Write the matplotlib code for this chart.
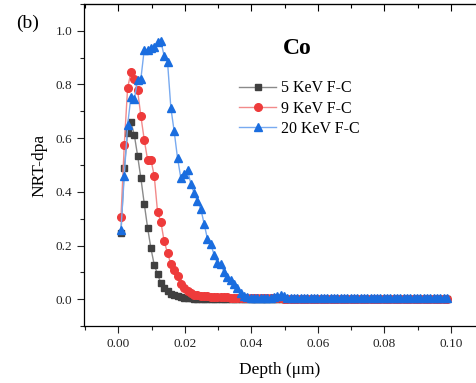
import numpy as np
import matplotlib
matplotlib.use("Agg")
import matplotlib.pyplot as plt
from matplotlib.ticker import MultipleLocator

plt.rcParams['font.family'] = ['Liberation Serif', 'DejaVu Serif']

# depth bins (um)
depth = np.round(0.0008 + 0.001 * np.arange(99), 4)

# NRT-dpa values
five_kev = [
    0.245, 0.490, 0.620, 0.659, 0.613, 0.535, 0.450, 0.356, 0.267, 0.190,
    0.128, 0.093, 0.060, 0.042, 0.030, 0.020, 0.014, 0.010, 0.007, 0.005,
    0.004, 0.003, 0.002, 0.002, 0.001, 0.001, 0.001, 0.001, 0.001, 0.001,
    0.0, 0.0, 0.0, 0.0, 0.0, 0.0, 0.0, 0.0, 0.0, 0.0,
    0.0, 0.0, 0.0, 0.0, 0.0, 0.0, 0.0, 0.0, 0.0, 0.0,
    0.0, 0.0, 0.0, 0.0, 0.0, 0.0, 0.0, 0.0, 0.0, 0.0,
    0.0, 0.0, 0.0, 0.0, 0.0, 0.0, 0.0, 0.0, 0.0, 0.0,
    0.0, 0.0, 0.0, 0.0, 0.0, 0.0, 0.0, 0.0, 0.0, 0.0,
    0.0, 0.0, 0.0, 0.0, 0.0, 0.0, 0.0, 0.0, 0.0, 0.0,
    0.0, 0.0, 0.0, 0.0, 0.0, 0.0, 0.0, 0.0, 0.0,
]
nine_kev = [
    0.305, 0.575, 0.787, 0.845, 0.820, 0.778, 0.681, 0.594, 0.520, 0.520,
    0.460, 0.325, 0.287, 0.215, 0.172, 0.130, 0.110, 0.087, 0.055, 0.040,
    0.030, 0.022, 0.017, 0.014, 0.012, 0.011, 0.010, 0.009, 0.009, 0.008,
    0.008, 0.007, 0.007, 0.006, 0.006, 0.006, 0.005, 0.005, 0.005, 0.005,
    0.004, 0.004, 0.004, 0.004, 0.004, 0.004, 0.003, 0.003, 0.003, 0.002,
    0.002, 0.002, 0.001, 0.001, 0.001, 0.001, 0.001, 0.001, 0.001, 0.001,
    0.001, 0.001, 0.001, 0.001, 0.001, 0.0, 0.0, 0.0, 0.0, 0.0,
    0.0, 0.0, 0.0, 0.0, 0.0, 0.0, 0.0, 0.0, 0.0, 0.0,
    0.0, 0.0, 0.0, 0.0, 0.0, 0.0, 0.0, 0.0, 0.0, 0.0,
    0.0, 0.0, 0.0, 0.0, 0.0, 0.0, 0.0, 0.0, 0.0,
]
twenty_kev = [
    0.258, 0.460, 0.648, 0.755, 0.745, 0.815, 0.822, 0.930, 0.928, 0.937,
    0.940, 0.957, 0.961, 0.905, 0.884, 0.713, 0.625, 0.526, 0.451, 0.468,
    0.482, 0.430, 0.395, 0.365, 0.336, 0.281, 0.224, 0.205, 0.165, 0.134,
    0.132, 0.100, 0.084, 0.072, 0.058, 0.040, 0.022, 0.010, 0.007, 0.006,
    0.006, 0.005, 0.006, 0.005, 0.006, 0.006, 0.008, 0.012, 0.015, 0.010,
    0.006, 0.005, 0.005, 0.006, 0.005, 0.005, 0.005, 0.006, 0.005, 0.005,
    0.005, 0.005, 0.006, 0.005, 0.005, 0.005, 0.005, 0.005, 0.006, 0.005,
    0.005, 0.005, 0.005, 0.005, 0.006, 0.005, 0.005, 0.005, 0.005, 0.005,
    0.005, 0.006, 0.005, 0.005, 0.005, 0.005, 0.005, 0.006, 0.005, 0.005,
    0.005, 0.005, 0.005, 0.006, 0.005, 0.005, 0.005, 0.005, 0.005,
]
labels = ["5 KeV F-C", "9 KeV F-C", "20 KeV F-C"]

fig = plt.figure(figsize=(4.76, 3.83), dpi=100)
ax = fig.add_axes([0.1765, 0.1488, 0.8235, 0.8408])

ax.plot(depth, five_kev, '-s', color='#8a8a8a', mfc='#404040', mec='#404040',
        lw=1, ms=5, label=labels[0])
ax.plot(depth, nine_kev, '-o', color='#f28a8a', mfc='#ee3b3b', mec='#ee3b3b',
        lw=1, ms=5.5, label=labels[1])
ax.plot(depth, twenty_kev, '-^', color='#78aaf0', mfc='#1a6ddf', mec='#1a6ddf',
        lw=1, ms=6, label=labels[2])

ax.set_xlim(-0.0103, 0.1075)
ax.set_ylim(-0.1, 1.1)
ax.xaxis.set_minor_locator(MultipleLocator(0.01))
ax.yaxis.set_minor_locator(MultipleLocator(0.1))
ax.set_xticks(np.arange(0, 0.101, 0.02))
ax.set_xticklabels(["0.00", "0.02", "0.04", "0.06", "0.08", "0.10"])
ax.set_yticks(np.arange(0, 1.01, 0.2))
ax.set_yticklabels(["0.0", "0.2", "0.4", "0.6", "0.8", "1.0"])

ax.tick_params(which='both', direction='out', width=0.8, labelsize=9.5, colors='#222222')
ax.tick_params(which='major', length=5)
ax.tick_params(which='minor', length=3)
for sp in ax.spines.values():
    sp.set_linewidth(0.9)
ax.spines['right'].set_visible(False)

# top ticks point inward
sec = ax.secondary_xaxis('top')
sec.xaxis.set_major_locator(MultipleLocator(0.02))
sec.xaxis.set_minor_locator(MultipleLocator(0.01))
sec.tick_params(which='both', direction='in', labeltop=False, width=0.8)
sec.tick_params(which='major', length=5)
sec.tick_params(which='minor', length=3)

ax.set_xlabel("Depth (\u03bcm)", fontsize=12.5, labelpad=9)
ax.set_ylabel("NRT-dpa", fontsize=12.5, labelpad=6)

ax.text(0.543, 0.863, "Co", transform=ax.transAxes, fontsize=17, fontweight='bold',
        ha='center', va='center')
fig.text(0.057, 0.94, "(b)", fontsize=14, ha='center', va='center')

ax.legend(loc='upper left', bbox_to_anchor=(0.503, 0.79), bbox_transform=fig.transFigure,
          frameon=False, fontsize=11.5, handlelength=2.3, handletextpad=0.3,
          labelspacing=0.27, borderpad=0, borderaxespad=0)

fig.savefig("out.png", dpi=100)
